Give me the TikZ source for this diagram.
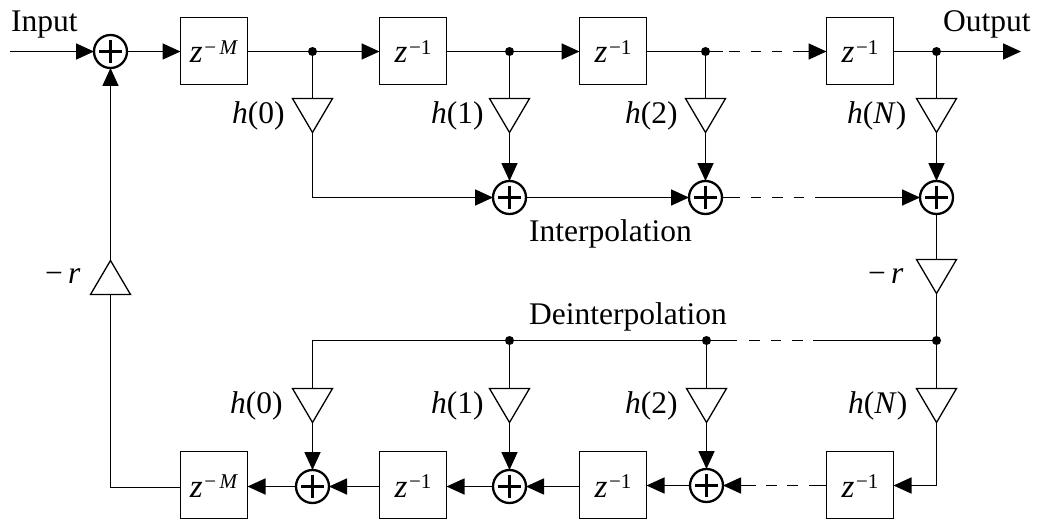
\documentclass[tikz,border=0pt]{standalone}
\usepackage{fontspec}
\setmainfont{Liberation Serif}
\usepackage{xcolor}
\usetikzlibrary{arrows.meta,shapes.geometric}
\newcommand{\zpow}[1]{\textit{z}\kern1.5pt\raisebox{8.5pt}{\fontsize{21}{21}\selectfont #1}}
\tikzset{
  delaybox/.style={draw,minimum size=67pt,inner sep=0pt,outer sep=0pt,line width=1.3pt,
    font=\fontsize{33}{36}\selectfont,text height=24pt,text depth=0pt},
  addernode/.style={draw,circle,minimum size=33pt,inner sep=0pt,outer sep=0pt,line width=2.3pt,
    path picture={\draw[line width=2.2pt] (path picture bounding box.center) ++(-11.5,0) -- ++(23,0)
      (path picture bounding box.center) ++(0,-11.5) -- ++(0,23);}},
  gainnode/.style={draw,isosceles triangle,isosceles triangle stretches,inner sep=0pt,outer sep=0pt,
    minimum width=40pt,minimum height=34pt,line width=1.3pt},
  gaindown/.style={gainnode,shape border rotate=-90,anchor=north},
  gainup/.style={gainnode,shape border rotate=90,anchor=south},
  tapdot/.style={circle,fill,inner sep=0pt,outer sep=0pt,minimum size=9pt},
  figurelabel/.style={font=\fontsize{31.5}{36}\selectfont,anchor=base west,inner sep=0pt},
  signalline/.style={line width=1.7pt},
  signalarrow/.style={-{Triangle[length=18pt,width=16pt]},line width=1.7pt},
  gapped/.style={dash pattern=#1}
}
\begin{document}
\begin{tikzpicture}[x=1pt,y=-1pt]
  \useasboundingbox (0,0) rectangle (1037,519);
  % forward line
  \coordinate (inA) at (10,51.5);
  \coordinate (outA) at (1021,51.5);
  \node[addernode] (addIn) at (110.5,51.5) {};
  \node[delaybox] (zMA) at (214,51) {\zpow{−\,\textit{M}}};
  \node[delaybox] (zA1) at (413,51) {\zpow{−1}};
  \node[delaybox] (zA2) at (613,51) {\zpow{−1}};
  \node[delaybox] (zA3) at (860,51) {\zpow{−1}};
  \node[tapdot] (dotA0) at (312.5,51.5) {};
  \node[tapdot] (dotA1) at (509.5,51.5) {};
  \node[tapdot] (dotA2) at (705.5,51.5) {};
  \node[tapdot] (dotA3) at (936.5,51.5) {};
  \node[gaindown] (gainA0) at (312.5,98.5) {};
  \node[gaindown] (gainA1) at (509.5,98.5) {};
  \node[gaindown] (gainA2) at (705.5,98.5) {};
  \node[gaindown] (gainA3) at (936.5,98.5) {};
  \node[addernode] (addA1) at (509.5,197.5) {};
  \node[addernode] (addA2) at (705.5,197.5) {};
  \node[addernode] (addA3) at (936.5,197.5) {};
  % feedback gains
  \node[gaindown] (gainR) at (936.5,259.5) {};
  \node[gainup] (gainL) at (110.5,294.5) {};
  % lower line
  \node[tapdot] (dotB1) at (509.5,340.5) {};
  \node[tapdot] (dotB2) at (706.5,340.5) {};
  \node[tapdot] (dotB3) at (936.5,340.5) {};
  \node[gaindown] (gainB0) at (312.5,388.5) {};
  \node[gaindown] (gainB1) at (509.5,388.5) {};
  \node[gaindown] (gainB2) at (706.5,388.5) {};
  \node[gaindown] (gainB3) at (936.5,388.5) {};
  \node[delaybox] (zMB) at (214,485) {\zpow{−\,\textit{M}}};
  \node[delaybox] (zB1) at (413,485) {\zpow{−1}};
  \node[delaybox] (zB2) at (613,485) {\zpow{−1}};
  \node[delaybox] (zB3) at (860,485) {\zpow{−1}};
  \node[addernode] (addB0) at (312.5,486.5) {};
  \node[addernode] (addB1) at (509.5,486.5) {};
  \node[addernode] (addB2) at (706.5,485.5) {};
  \coordinate (turnB) at (110.5,487.5);
  % labels
  \node[figurelabel] (inLabel) at (11,32) {Input};
  \node[figurelabel] (outLabel) at (943,32) {Output};
  \node[figurelabel] (interLabel) at (529,241) {Interpolation};
  \node[figurelabel] (deinterLabel) at (529,324) {Deinterpolation};
  \node[figurelabel] (hA0) at (232,124) {\textit{h}(0)};
  \node[figurelabel] (hA1) at (431,124) {\textit{h}(1)};
  \node[figurelabel] (hA2) at (625,124) {\textit{h}(2)};
  \node[figurelabel] (hA3) at (847,124) {\textit{h}(\textit{N})};
  \node[figurelabel] (hB0) at (230,413) {\textit{h}(0)};
  \node[figurelabel] (hB1) at (431,413) {\textit{h}(1)};
  \node[figurelabel] (hB2) at (625,413) {\textit{h}(2)};
  \node[figurelabel] (hB3) at (848,413) {\textit{h}(\textit{N})};
  \node[figurelabel] (rL) at (45,283) {−\,\textit{r}};
  \node[figurelabel] (rR) at (868,283) {−\,\textit{r}};
  % connectors, top row
  \draw[signalarrow] (inA) -- (addIn);
  \draw[signalarrow] (addIn) -- (zMA.west |- addIn);
  \draw[signalline] (zMA.east |- dotA0) -- (dotA0);
  \draw[signalarrow] (dotA0) -- (zA1.west |- dotA0);
  \draw[signalline] (zA1.east |- dotA1) -- (dotA1);
  \draw[signalarrow] (dotA1) -- (zA2.west |- dotA1);
  \draw[signalline] (zA2.east |- dotA2) -- (dotA2);
  \draw[signalarrow,gapped={on 12.7pt off 6.6pt on 10.7pt off 10.7pt on 10.6pt off 10.4pt on 10.6pt off 10.4pt on 60pt}] (dotA2) -- (zA3.west |- dotA2);
  \draw[signalline] (zA3.east |- dotA3) -- (dotA3);
  \draw[signalarrow] (dotA3) -- (outA);
  \draw[signalline] (dotA0) -- (gainA0.north);
  \draw[signalline] (dotA1) -- (gainA1.north);
  \draw[signalline] (dotA2) -- (gainA2.north);
  \draw[signalline] (dotA3) -- (gainA3.north);
  % summing row
  \draw[signalarrow] (gainA0.south) |- (addA1);
  \draw[signalarrow] (gainA1.south) -- (addA1);
  \draw[signalarrow] (gainA2.south) -- (addA2);
  \draw[signalarrow] (gainA3.south) -- (addA3);
  \draw[signalarrow] (addA1) -- (addA2);
  \draw[signalarrow,gapped={on 18pt off 10.5pt on 10.7pt off 11pt on 10.6pt off 10.7pt on 10.7pt off 11pt on 130pt}] (addA2) -- (addA3);
  \draw[signalline] (addA3) -- (gainR.north);
  \draw[signalline] (gainR.south) -- (dotB3);
  % deinterpolation row
  \draw[signalline] (gainB0.north) |- (dotB1);
  \draw[signalline] (dotB1) -- (dotB2);
  \draw[signalline,gapped={on 26.3pt off 12pt on 10.7pt off 10.7pt on 10.6pt off 10.7pt on 10.7pt off 10.6pt on 130pt}] (dotB2) -- (dotB3);
  \draw[signalline] (dotB1) -- (gainB1.north);
  \draw[signalline] (dotB2) -- (gainB2.north);
  \draw[signalline] (dotB3) -- (gainB3.north);
  % bottom row
  \draw[signalarrow] (gainB0.south) -- (addB0);
  \draw[signalarrow] (gainB1.south) -- (addB1);
  \draw[signalarrow] (gainB2.south) -- (addB2);
  \draw[signalarrow] (gainB3.south) |- (zB3.east |- addB2);
  \draw[signalarrow,gapped={on 17.7pt off 11.3pt on 10.3pt off 10.7pt on 10.7pt off 10.3pt on 60pt}] (zB3.west |- addB2) -- (addB2);
  \draw[signalarrow] (zB2.west |- addB1) -- (addB1);
  \draw[signalarrow] (addB2) -- (zB2.east |- addB2);
  \draw[signalarrow] (addB1) -- (zB1.east |- addB1);
  \draw[signalarrow] (zB1.west |- addB0) -- (addB0);
  \draw[signalarrow] (addB0) -- (zMB.east |- addB0);
  \draw[signalline] (zMB.west |- turnB) -- (turnB) -- (gainL.south);
  \draw[signalarrow] (gainL.north) -- (addIn);
\end{tikzpicture}
\end{document}
